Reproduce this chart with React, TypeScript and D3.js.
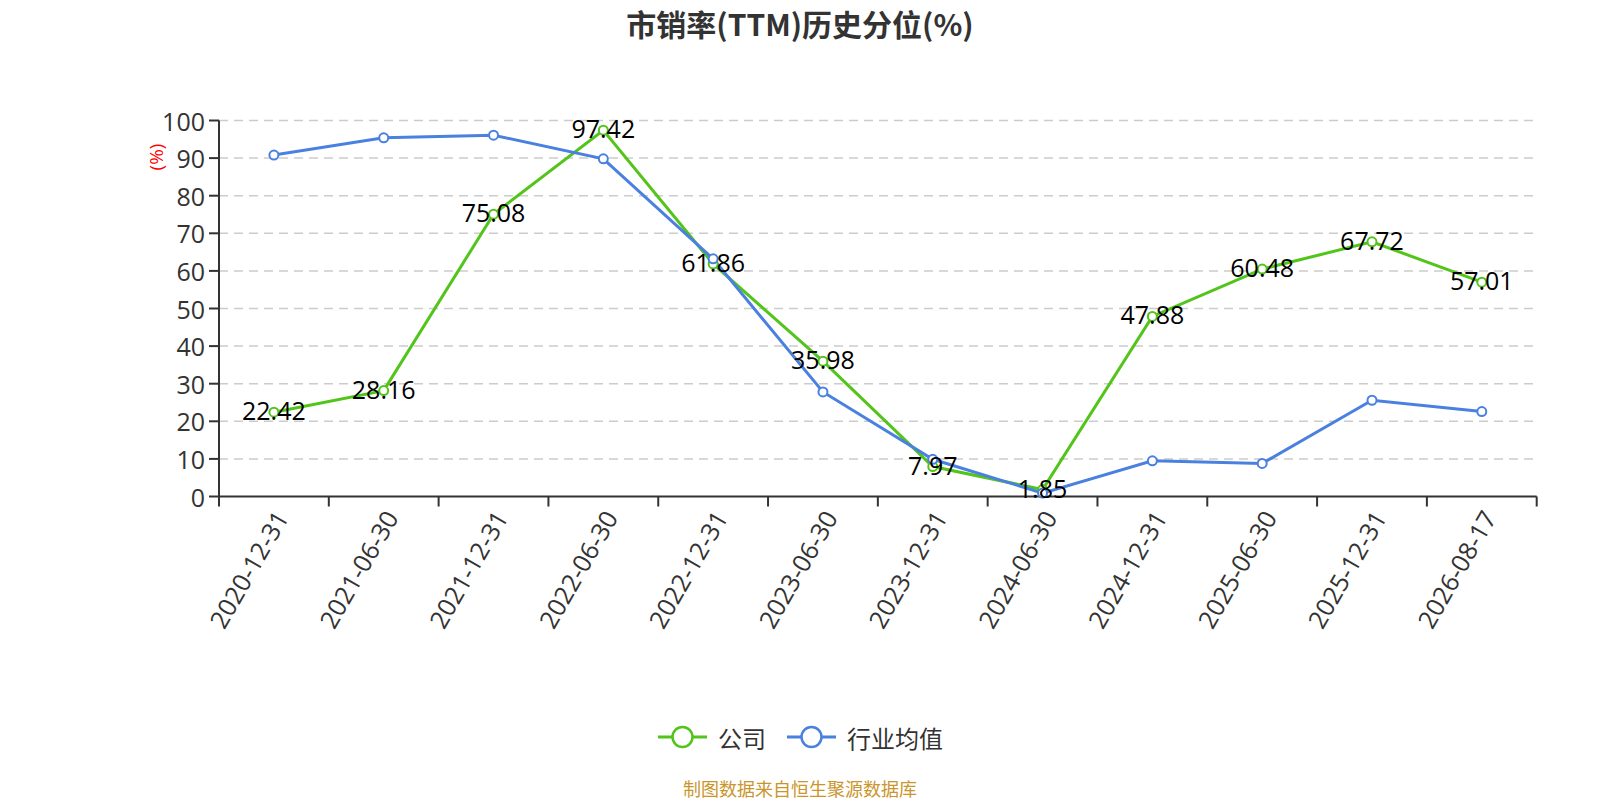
import React from "react";
import * as d3 from "d3";

const categories = [
  "2020-12-31", "2021-06-30", "2021-12-31", "2022-06-30", "2022-12-31", "2023-06-30",
  "2023-12-31", "2024-06-30", "2024-12-31", "2025-06-30", "2025-12-31", "2026-08-17",
];
const companyValues = [22.42, 28.16, 75.08, 97.42, 61.86, 35.98, 7.97, 1.85, 47.88, 60.48, 67.72, 57.01];
const industryValues = [90.8, 95.4, 96.1, 89.8, 63.2, 27.8, 9.9, 0.9, 9.5, 8.8, 25.6, 22.6];
const yTicks = [0, 10, 20, 30, 40, 50, 60, 70, 80, 90, 100];
const seriesNames = ["公司", "行业均值"];
const title = "市销率(TTM)历史分位(%)";
const footer = "制图数据来自恒生聚源数据库";

const GREEN = "#52c41a";
const BLUE = "#4a80e0";
const FONT = "'Open Sans', 'Noto Sans CJK SC', sans-serif";
const CJK = "'Noto Sans CJK SC', sans-serif";

export default function App() {
  const left = 219, right = 1536.7, top = 120.5, bottom = 496.5;
  const x = d3.scaleBand<string>().domain(categories).range([left, right]);
  const y = d3.scaleLinear().domain([0, 100]).range([bottom, top]);
  const cx = (c: string) => (x(c) as number) + x.bandwidth() / 2;
  const line = d3
    .line<number>()
    .x((_, i) => cx(categories[i]))
    .y((v) => y(v));

  const series = [
    { name: seriesNames[0], values: companyValues, color: GREEN, labels: true },
    { name: seriesNames[1], values: industryValues, color: BLUE, labels: false },
  ];
  const boundaries = [...categories.map((c) => x(c) as number), right];

  return (
    <div style={{ position: "absolute", left: 0, top: 0 }}>
      <svg width={1600} height={800} style={{ display: "block", background: "#fff" }}>
        <text x={800} y={23} textAnchor="middle" dominantBaseline="central" fontFamily={CJK} fontWeight="bold" fontSize={30} fill="#333">
          {title}
        </text>

        {/* grid */}
        {yTicks.map((t) =>
          t === 0 ? null : (
            <line key={"g" + t} x1={left} x2={right} y1={y(t)} y2={y(t)} stroke="#cccccc" strokeWidth={1.5} strokeDasharray="9,6" />
          )
        )}

        {/* y axis */}
        <line x1={left} x2={left} y1={top} y2={bottom} stroke="#333" strokeWidth={2} />
        {yTicks.map((t) => (
          <g key={"y" + t}>
            <line x1={left - 10} x2={left} y1={y(t)} y2={y(t)} stroke="#333" strokeWidth={2} />
            <text x={left - 14} y={y(t)} textAnchor="end" dominantBaseline="central" fontFamily={FONT} fontSize={25} fill="#333">
              {t}
            </text>
          </g>
        ))}
        <text
          transform={`translate(156,157) rotate(-90)`}
          textAnchor="middle"
          dominantBaseline="central"
          fontFamily={FONT}
          fontSize={19}
          fill="red"
        >
          (%)
        </text>

        {/* x axis */}
        <line x1={left} x2={right} y1={bottom} y2={bottom} stroke="#333" strokeWidth={2} />
        {boundaries.map((b, i) => (
          <line key={"xt" + i} x1={b} x2={b} y1={bottom} y2={bottom + 10} stroke="#333" strokeWidth={2} />
        ))}
        {categories.map((c) => (
          <text
            key={"xl" + c}
            transform={`translate(${cx(c) + 7},${bottom + 16}) rotate(-60)`}
            textAnchor="end"
            dominantBaseline="central"
            fontFamily={FONT}
            fontSize={25}
            fill="#333"
          >
            {c}
          </text>
        ))}

        {/* lines */}
        {series.map((s) => (
          <path key={"l" + s.name} d={line(s.values) || ""} fill="none" stroke={s.color} strokeWidth={3} />
        ))}
        {series.map((s) =>
          s.values.map((v, i) => (
            <circle key={s.name + i} cx={cx(categories[i])} cy={y(v)} r={4.5} fill="#fff" stroke={s.color} strokeWidth={2} />
          ))
        )}
        {series.map((s) =>
          s.labels
            ? s.values.map((v, i) => (
                <text
                  key={"dl" + s.name + i}
                  x={cx(categories[i])}
                  y={y(v) - 2}
                  textAnchor="middle"
                  dominantBaseline="central"
                  fontFamily={FONT}
                  fontSize={25}
                  fill="#000"
                >
                  {v.toFixed(2)}
                </text>
              ))
            : null
        )}

        {/* legend */}
        {series.map((s, i) => {
          const lx = i === 0 ? 658 : 787;
          return (
            <g key={"lg" + s.name}>
              <line x1={lx} x2={lx + 49} y1={737} y2={737} stroke={s.color} strokeWidth={3} />
              <circle cx={lx + 24.5} cy={737} r={10} fill="#fff" stroke={s.color} strokeWidth={2.5} />
              <text x={lx + 60} y={737} dominantBaseline="central" fontFamily={CJK} fontSize={24} fill="#333">
                {s.name}
              </text>
            </g>
          );
        })}

        <text x={800} y={788} textAnchor="middle" dominantBaseline="central" fontFamily={CJK} fontSize={18} fill="#c9962c">
          {footer}
        </text>
      </svg>
    </div>
  );
}
